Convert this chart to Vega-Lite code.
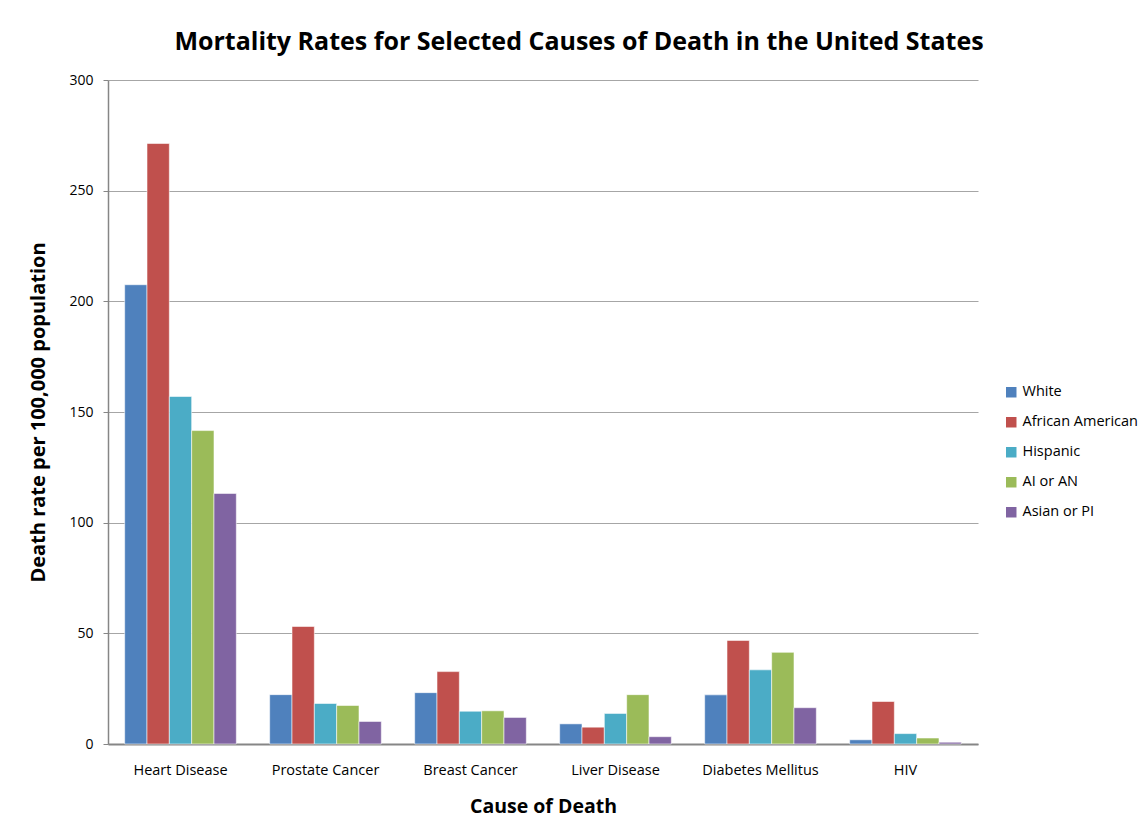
{
  "$schema": "https://vega.github.io/schema/vega-lite/v6.json",
  "autosize": {"type": "none"},
  "width": 870,
  "height": 664,
  "padding": {"left": 108, "top": 80, "right": 162, "bottom": 95},
  "background": "white",
  "title": {
    "text": "Mortality Rates for Selected Causes of Death in the United States",
    "font": "Open Sans",
    "fontSize": 25,
    "fontWeight": "bold",
    "color": "#000000",
    "anchor": "middle",
    "offset": 18,
    "dx": 36,
    "frame": "group"
  },
  "data": {
    "values": [
      {"cause": "Heart Disease", "group": "White", "rate": 207.5},
      {"cause": "Heart Disease", "group": "African American", "rate": 271.3},
      {"cause": "Heart Disease", "group": "Hispanic", "rate": 157.0},
      {"cause": "Heart Disease", "group": "AI or AN", "rate": 141.6},
      {"cause": "Heart Disease", "group": "Asian or PI", "rate": 113.2},
      {"cause": "Prostate Cancer", "group": "White", "rate": 22.3},
      {"cause": "Prostate Cancer", "group": "African American", "rate": 53.1},
      {"cause": "Prostate Cancer", "group": "Hispanic", "rate": 18.3},
      {"cause": "Prostate Cancer", "group": "AI or AN", "rate": 17.4},
      {"cause": "Prostate Cancer", "group": "Asian or PI", "rate": 10.2},
      {"cause": "Breast Cancer", "group": "White", "rate": 23.2},
      {"cause": "Breast Cancer", "group": "African American", "rate": 32.7},
      {"cause": "Breast Cancer", "group": "Hispanic", "rate": 14.8},
      {"cause": "Breast Cancer", "group": "AI or AN", "rate": 15.0},
      {"cause": "Breast Cancer", "group": "Asian or PI", "rate": 12.0},
      {"cause": "Liver Disease", "group": "White", "rate": 9.1},
      {"cause": "Liver Disease", "group": "African American", "rate": 7.6},
      {"cause": "Liver Disease", "group": "Hispanic", "rate": 13.8},
      {"cause": "Liver Disease", "group": "AI or AN", "rate": 22.3},
      {"cause": "Liver Disease", "group": "Asian or PI", "rate": 3.3},
      {"cause": "Diabetes Mellitus", "group": "White", "rate": 22.2},
      {"cause": "Diabetes Mellitus", "group": "African American", "rate": 46.8},
      {"cause": "Diabetes Mellitus", "group": "Hispanic", "rate": 33.5},
      {"cause": "Diabetes Mellitus", "group": "AI or AN", "rate": 41.4},
      {"cause": "Diabetes Mellitus", "group": "Asian or PI", "rate": 16.4},
      {"cause": "HIV", "group": "White", "rate": 1.9},
      {"cause": "HIV", "group": "African American", "rate": 19.2},
      {"cause": "HIV", "group": "Hispanic", "rate": 4.7},
      {"cause": "HIV", "group": "AI or AN", "rate": 2.7},
      {"cause": "HIV", "group": "Asian or PI", "rate": 0.8}
    ]
  },
  "mark": {"type": "bar", "stroke": "#ffffff", "strokeOpacity": 0.55, "strokeWidth": 1},
  "encoding": {
    "x": {
      "field": "cause",
      "type": "nominal",
      "sort": ["Heart Disease", "Prostate Cancer", "Breast Cancer", "Liver Disease", "Diabetes Mellitus", "HIV"],
      "scale": {"paddingInner": 0.23, "paddingOuter": 0.115},
      "axis": {
        "title": "Cause of Death",
        "titleFont": "Open Sans",
        "titleFontSize": 19.5,
        "titleFontWeight": "bold",
        "titleColor": "#000000",
        "titlePadding": 21,
        "labelFont": "Open Sans",
        "labelFontSize": 14.5,
        "labelColor": "#000000",
        "labelAngle": 0,
        "labelPadding": 19,
        "ticks": false,
        "domainColor": "#868686",
        "domainWidth": 2
      }
    },
    "xOffset": {
      "field": "group",
      "type": "nominal",
      "sort": ["White", "African American", "Hispanic", "AI or AN", "Asian or PI"],
      "scale": {"paddingInner": 0, "paddingOuter": 0}
    },
    "y": {
      "field": "rate",
      "type": "quantitative",
      "scale": {"domain": [0, 300]},
      "axis": {
        "title": "Death rate per 100,000  population",
        "titleFont": "Open Sans",
        "titleFontSize": 20,
        "titleFontWeight": "bold",
        "titleColor": "#000000",
        "titlePadding": 20,
        "values": [0, 50, 100, 150, 200, 250, 300],
        "labelFont": "Open Sans",
        "labelFontSize": 14,
        "labelColor": "#000000",
        "labelPadding": 10,
        "tickColor": "#868686",
        "tickSize": 5,
        "domainColor": "#868686",
        "domainWidth": 1.5,
        "grid": true,
        "gridColor": "#a6a6a6",
        "gridWidth": 1
      }
    },
    "color": {
      "field": "group",
      "type": "nominal",
      "sort": ["White", "African American", "Hispanic", "AI or AN", "Asian or PI"],
      "scale": {
        "domain": ["White", "African American", "Hispanic", "AI or AN", "Asian or PI"],
        "range": ["#4F81BD", "#C0504D", "#4BACC6", "#9BBB59", "#8064A2"]
      },
      "legend": {
        "title": null,
        "orient": "none",
        "legendX": 896,
        "legendY": 305,
        "symbolType": "square",
        "symbolSize": 110,
        "symbolStrokeWidth": 0,
        "labelFont": "Open Sans",
        "labelFontSize": 14.5,
        "labelColor": "#000000",
        "rowPadding": 15,
        "labelOffset": 4
      }
    }
  },
  "config": {
    "view": {"stroke": null}
  }
}
